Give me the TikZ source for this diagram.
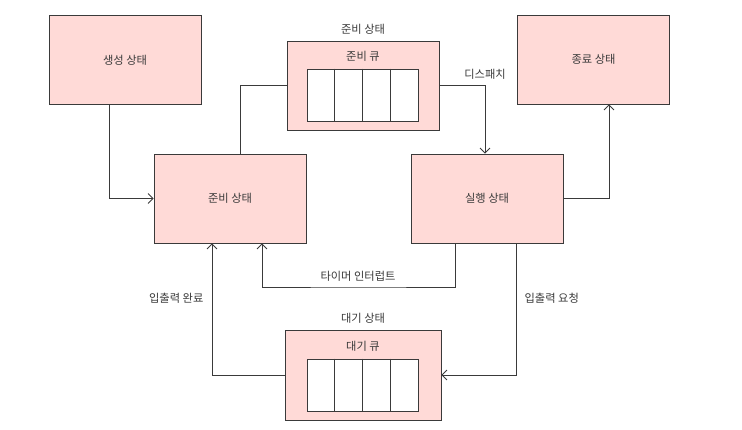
\documentclass[tikz,border=0pt]{standalone}
\usepackage{fontspec}
\setmainfont{Noto Sans CJK KR}
\usetikzlibrary{calc,positioning,arrows.meta}
\definecolor{statefill}{HTML}{FFDAD7}
\definecolor{stateline}{HTML}{3A3A3A}
\tikzset{
	state/.style={draw=stateline, fill=statefill, line width=0.7pt, minimum width=4.56cm, minimum height=2.67cm, inner sep=0pt, text=stateline, font=\fontsize{9.6}{11}\selectfont},
	queue/.style={draw=stateline, fill=white, line width=0.7pt, minimum width=3.33cm, minimum height=1.56cm, inner sep=0pt},
	flow/.style={draw=stateline, line width=0.7pt},
	tip/.style={-{Straight Barb[length=1.5mm,width=3mm]}},
	txt/.style={text=stateline, font=\fontsize{9.6}{11}\selectfont, inner sep=1pt},
}

\begin{document}
\begin{tikzpicture}[x=0.03cm, y=-0.03cm]
			%%%%% START %%%%%
			
			\useasboundingbox (0, 0) rectangle (742, 430);
			
			\node[state] (new) at (125, 60) {생성 상태};
			\node[state] (exit) at (593.5, 59.5) {종료 상태};
			\node[state] (ready) at (230, 198.5) {준비 상태};
			\node[state] (run) at (487, 198.5) {실행 상태};
			
			\node[state] (readyq) at (363, 85.5) {};
			\node[txt, above=1.5mm of readyq] (readyqtitle) {준비 상태};
			\node[txt] (readyqname) at (363, 56) {준비 큐};
			\node[queue] (rq) at (362.5, 95) {};
			\foreach \i in {1,2,3}
				\draw[flow] ($(rq.north west)!\i/4!(rq.north east)$) -- ($(rq.south west)!\i/4!(rq.south east)$);
			
			\node[state, minimum width=4.68cm, minimum height=2.7cm] (waitq) at (363, 375) {};
			\node[txt, above=1.5mm of waitq] (waitqtitle) {대기 상태};
			\node[txt] (waitqname) at (363, 346) {대기 큐};
			\node[queue] (wq) at (362.5, 385) {};
			\foreach \i in {1,2,3}
				\draw[flow] ($(wq.north west)!\i/4!(wq.north east)$) -- ($(wq.south west)!\i/4!(wq.south east)$);
			
			\draw[flow, tip] ($(new.south)+(-16,0)$) |- (ready.west);
			\draw[flow] ($(ready.north)+(10,0)$) |- (readyq.west);
			\draw[flow, tip] (readyq.east) -| node[txt, pos=0.5, above=4pt] (dispatch) {디스패치} ($(run.north)+(-2,0)$);
			\draw[flow, tip] (run.east) -| ($(exit.south)+(15.5,0)$);
			
			\coordinate (timer) at (358, 287);
			\draw[flow, tip] ($(run.south)+(-32,0)$) |- (timer) -| ($(ready.south)+(32,0)$);
			\node[txt, above=4pt of timer] (timerlbl) {타이머 인터럽트};
			
			\draw[flow, tip] ($(run.south)+(29,0)$) |- node[txt, pos=0.21, right=6pt] (iorequest) {입출력 요청} (waitq.east);
			\draw[flow, tip] (waitq.west) -| node[txt, pos=0.79, left=6pt] (iodone) {입출력 완료} ($(ready.south)+(-18,0)$);
			
			%%%%% END %%%%%
		\end{tikzpicture}
\end{document}
